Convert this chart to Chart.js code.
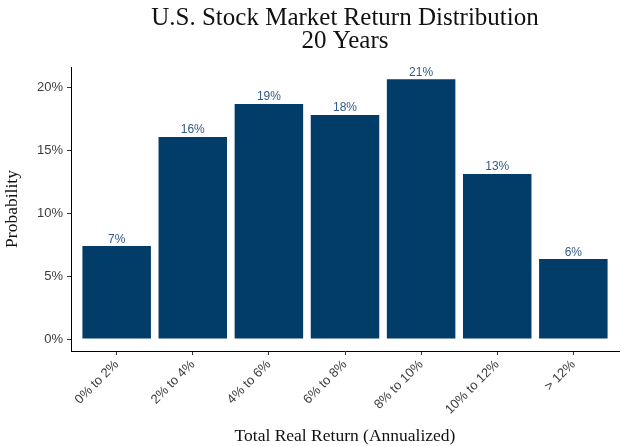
<!DOCTYPE html>
<html>
<head>
<meta charset="utf-8">
<script src="https://cdn.jsdelivr.net/npm/chart.js@4/dist/chart.umd.min.js"></script>
<style>
  html, body { margin: 0; padding: 0; background: #fff; }
  #wrap { width: 626px; height: 446px; }
</style>
</head>
<body>
<div id="wrap"><canvas id="myChart" width="626" height="446"></canvas></div>
<script>
// data
const categories = ['0% to 2%', '2% to 4%', '4% to 6%', '6% to 8%', '8% to 10%', '10% to 12%', '> 12%'];
const probability = [7.39, 16.06, 18.68, 17.81, 20.64, 13.12, 6.36];
const barLabels = ['7%', '16%', '19%', '18%', '21%', '13%', '6%'];
const yTicks = [0, 5, 10, 15, 20];
const titleLines = ['U.S. Stock Market Return Distribution', '20 Years'];

const barColor = '#023d69';
const serif = '"Liberation Serif", "DejaVu Serif", serif';
const sans = '"Liberation Sans", Arial, sans-serif';

// title, centred over the plot panel
const titlePlugin = {
  id: 'twoLineTitle',
  afterDraw(chart) {
    const c = chart.ctx;
    const a = chart.chartArea;
    const cx = (a.left + a.right) / 2;
    c.save();
    c.fillStyle = '#111';
    c.textAlign = 'center';
    c.textBaseline = 'alphabetic';
    c.font = '25px ' + serif;
    c.fillText(titleLines[0], cx, 25);
    c.fillText(titleLines[1], cx, 48);
    c.restore();
  }
};

// value labels above each bar
const barLabelPlugin = {
  id: 'barLabels',
  afterDatasetsDraw(chart) {
    const c = chart.ctx;
    const meta = chart.getDatasetMeta(0);
    c.save();
    c.fillStyle = '#34598a';
    c.font = '12px ' + sans;
    c.textAlign = 'center';
    c.textBaseline = 'alphabetic';
    meta.data.forEach(function(bar, i) {
      c.fillText(barLabels[i], bar.x, bar.y - 3.5);
    });
    c.restore();
  }
};

var ctx = document.getElementById('myChart');
var chart = new Chart(ctx, {
  type: 'bar',
  data: {
    datasets: [{
      data: categories.map((c, i) => ({ x: i + 1, y: probability[i] })),
      backgroundColor: barColor,
      borderWidth: 0,
      barPercentage: 0.9,
      categoryPercentage: 1
    }]
  },
  options: {
    responsive: false,
    animation: false,
    layout: { padding: { top: 67, right: 7, left: 0, bottom: 0 } },
    plugins: {
      legend: { display: false },
      tooltip: { enabled: false },
      title: { display: false }
    },
    scales: {
      x: {
        type: 'linear',
        min: 0.4,
        max: 7.6,
        offset: false,
        grid: { offset: false, drawOnChartArea: false, tickLength: 4, color: '#333' },
        border: { display: true, color: '#000', width: 1 },
        afterBuildTicks: s => { s.ticks = categories.map((c, i) => ({ value: i + 1 })); },
        afterFit: s => { s.height = 95; },
        ticks: {
          autoSkip: false,
          minRotation: 45,
          maxRotation: 45,
          padding: 2,
          color: '#3d3d3d',
          font: { family: sans, size: 13 },
          callback: v => categories[v - 1]
        },
        title: {
          display: true,
          text: 'Total Real Return (Annualized)',
          color: '#111',
          font: { family: serif, size: 17.5, lineHeight: 1 },
          padding: { top: 0, bottom: 1 }
        }
      },
      y: {
        min: -0.95,
        max: 21.62,
        grid: { drawOnChartArea: false, tickLength: 4, color: '#333' },
        border: { display: true, color: '#000', width: 1 },
        afterBuildTicks: s => { s.ticks = yTicks.map(v => ({ value: v })); },
        afterFit: s => { s.width = 71; },
        ticks: {
          padding: 4,
          color: '#3d3d3d',
          font: { family: sans, size: 13 },
          callback: v => v + '%'
        },
        title: {
          display: true,
          text: 'Probability',
          color: '#111',
          font: { family: serif, size: 17.5, lineHeight: 1 },
          padding: { top: 4, bottom: 0 }
        }
      }
    }
  },
  plugins: [titlePlugin, barLabelPlugin]
});
</script>
</body>
</html>
